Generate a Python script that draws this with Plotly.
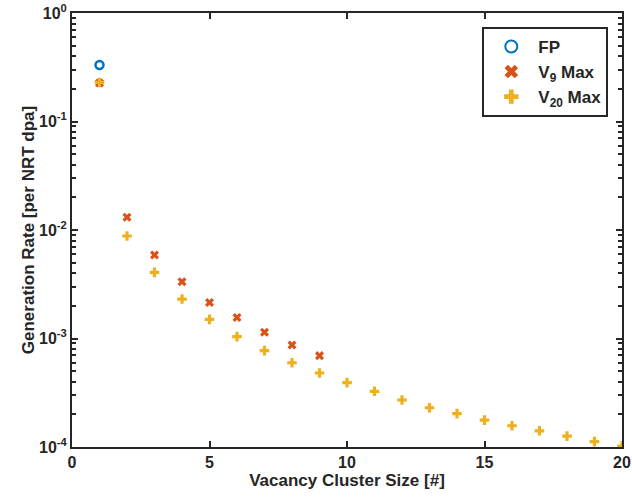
import plotly.graph_objects as go

fp_x = [1]
fp_y = [0.332]
v9_x = [1, 2, 3, 4, 5, 6, 7, 8, 9]
v9_y = [0.226, 0.0131, 0.00589, 0.00334, 0.00215, 0.00156, 0.00114, 0.000871, 0.000695]
v20_x = list(range(1, 21))
v20_y = [0.229, 0.0088, 0.00407, 0.00231, 0.00150, 0.00104, 0.000773, 0.000598, 0.000481,
         0.000392, 0.000326, 0.000271, 0.000230, 0.000203, 0.000177, 0.000157, 0.000141,
         0.000126, 0.000112, 0.000102]
x_tickvals = [0, 5, 10, 15, 20]
y_tickvals = [1e-4, 1e-3, 1e-2, 1e-1, 1]
y_ticktext = ["10<sup>-4</sup>", "10<sup>-3</sup>", "10<sup>-2</sup>", "10<sup>-1</sup>", "10<sup>0</sup>"]

minor_vals = [m * 10 ** e for e in range(-4, 0) for m in range(2, 10)]

fig = go.Figure()
fig.add_trace(go.Scatter(x=fp_x, y=fp_y, mode="markers", name="<b>FP</b>",
                         marker=dict(symbol="circle-open", size=8, color="#0072BD",
                                     line=dict(width=2.5, color="#0072BD"))))
fig.add_trace(go.Scatter(x=v9_x, y=v9_y, mode="markers", name="<b>V<sub>9</sub> Max</b>",
                         marker=dict(symbol="x", size=8, color="#D95319", line=dict(width=0))))
fig.add_trace(go.Scatter(x=v20_x, y=v20_y, mode="markers", name="<b>V<sub>20</sub> Max</b>",
                         marker=dict(symbol="cross", size=8, color="#EDB120", line=dict(width=0))))

fam = "Arial, Liberation Sans, sans-serif"
ink = "#262626"
fig.update_layout(
    width=632, height=501,
    margin=dict(l=72, r=10, t=13, b=54),
    plot_bgcolor="white", paper_bgcolor="white",
    font=dict(family=fam, size=16, color=ink),
    legend=dict(x=0.746, y=0.968, xanchor="left", yanchor="top",
                bordercolor=ink, borderwidth=2, bgcolor="white",
                font=dict(family=fam, size=17, color=ink),
                tracegroupgap=4, itemsizing="constant", itemwidth=44),
    xaxis=dict(range=[0, 20], tickmode="array", tickvals=x_tickvals,
               ticks="inside", ticklen=6, tickwidth=2, tickcolor=ink,
               showline=True, linecolor=ink, linewidth=2, mirror="ticks",
               showgrid=False, zeroline=False, automargin=False,
               tickfont=dict(size=16, color=ink, weight="bold"),
               title=dict(text="Vacancy Cluster Size [#]", standoff=2,
                          font=dict(size=17, weight="bold"))),
    yaxis=dict(type="log", range=[-4, 0], tickmode="array", tickvals=y_tickvals,
               ticktext=y_ticktext,
               ticks="inside", ticklen=6, tickwidth=2, tickcolor=ink,
               showline=True, linecolor=ink, linewidth=2, mirror="ticks",
               showgrid=False, zeroline=False, automargin=False,
               tickfont=dict(size=16, color=ink, weight="bold"),
               minor=dict(tickmode="array", tickvals=minor_vals, ticks="inside", ticklen=4,
                          tickwidth=2, tickcolor=ink, showgrid=False),
               title=dict(text="Generation Rate [per NRT dpa]", standoff=0,
                          font=dict(size=17, weight="bold"))),
)

fig.write_html("out.html")
